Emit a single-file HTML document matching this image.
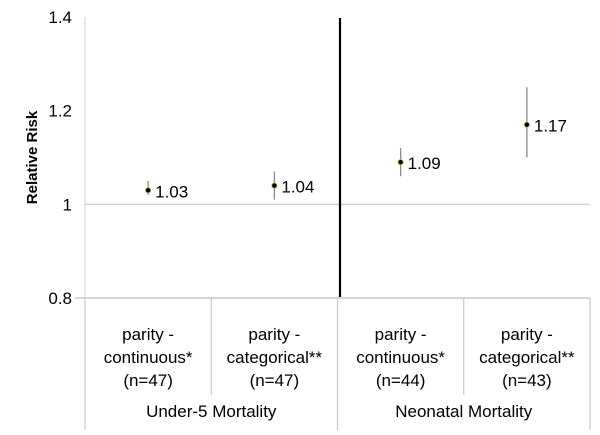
<!DOCTYPE html>
<html><head><meta charset="utf-8"><style>
html,body{margin:0;padding:0;background:#fff;}
svg{display:block;font-family:"Liberation Sans",Calibri,sans-serif;}
</style></head><body>
<svg id="chart" width="600" height="435" viewBox="0 0 600 435"></svg>
<script>
const categories=["parity - continuous* (n=47)","parity - categorical** (n=47)","parity - continuous* (n=44)","parity - categorical** (n=43)"];
const catLines=[["parity -","continuous*","(n=47)"],["parity -","categorical**","(n=47)"],["parity -","continuous*","(n=44)"],["parity -","categorical**","(n=43)"]];
const groups=["Under-5 Mortality","Neonatal Mortality"];
const values=[1.03,1.04,1.09,1.17];
const lower=[1.02,1.01,1.06,1.10];
const upper=[1.05,1.07,1.12,1.25];
const ticks=[0.8,1,1.2,1.4];
const tickLabels=["0.8","1","1.2","1.4"];
const labels=["1.03","1.04","1.09","1.17"];

const svg=document.getElementById('chart');
const NS='http://www.w3.org/2000/svg';
const L=85,R=590,T=17,B=298;
const y=v=>B-(v-0.8)/(1.4-0.8)*(B-T);
const bw=(R-L)/categories.length;
const x=i=>L+bw*(i+0.5);
function mk(tag,attrs){const e=document.createElementNS(NS,tag);for(const k in attrs)e.setAttribute(k,attrs[k]);svg.appendChild(e);return e;}

let e=mk('line',{x1:L,x2:L,y1:T,y2:B,stroke:'#d0d0d0','stroke-width':1});


ticks.forEach((t,i)=>{
  if(t===1){const g=mk('line',{x1:L,x2:R,y1:y(t),y2:y(t),stroke:'#d0d0d0','stroke-width':1.5});
  
  }
  const tx=mk('text',{x:L-13,y:y(t)+6,'text-anchor':'end','font-size':17,fill:'#000'});
  tx.textContent=tickLabels[i];
  
  
});
e=mk('line',{x1:L-10,x2:R,y1:B,y2:B,stroke:'#c8c8c8','stroke-width':1.5});


// category dividers
for(let i=0;i<=categories.length;i++){
  const xx=L+bw*i;
  const bottom=(i%2===0)?430:395;
  const d=mk('line',{x1:xx,x2:xx,y1:B,y2:bottom,stroke:'#c8c8c8','stroke-width':1.2});
  
  
}
catLines.forEach((ls,i)=>{
  ls.forEach((s,j)=>{
    const t=mk('text',{x:x(i),y:340+j*23,'text-anchor':'middle','font-size':17,fill:'#000'});
    t.textContent=s;
    
    
  });
});
groups.forEach((g,i)=>{
  const t=mk('text',{x:L+bw*(2*i+1),y:417,'text-anchor':'middle','font-size':17,fill:'#000'});
  t.textContent=g;
  
  
});
e=mk('line',{x1:340,x2:340,y1:T+1,y2:B-1,stroke:'#000','stroke-width':2.2});


const yt=mk('text',{x:0,y:0,'text-anchor':'middle','font-size':15,'font-weight':'bold',fill:'#000',transform:`translate(37,${(T+B)/2}) rotate(-90)`});
yt.textContent='Relative Risk';


values.forEach((v,i)=>{
  const eb=mk('line',{x1:x(i),x2:x(i),y1:y(upper[i]),y2:y(lower[i]),stroke:'#8a8a8a','stroke-width':1.3});
  
  
  const p=mk('circle',{cx:x(i),cy:y(v),r:2.6,fill:'#000',stroke:'#9bbb59','stroke-width':0.8});
  
  
  const t=mk('text',{x:x(i)+7,y:y(v)+7,'font-size':17,fill:'#000'});
  t.textContent=labels[i];
  
  
});
</script>
</body></html>
